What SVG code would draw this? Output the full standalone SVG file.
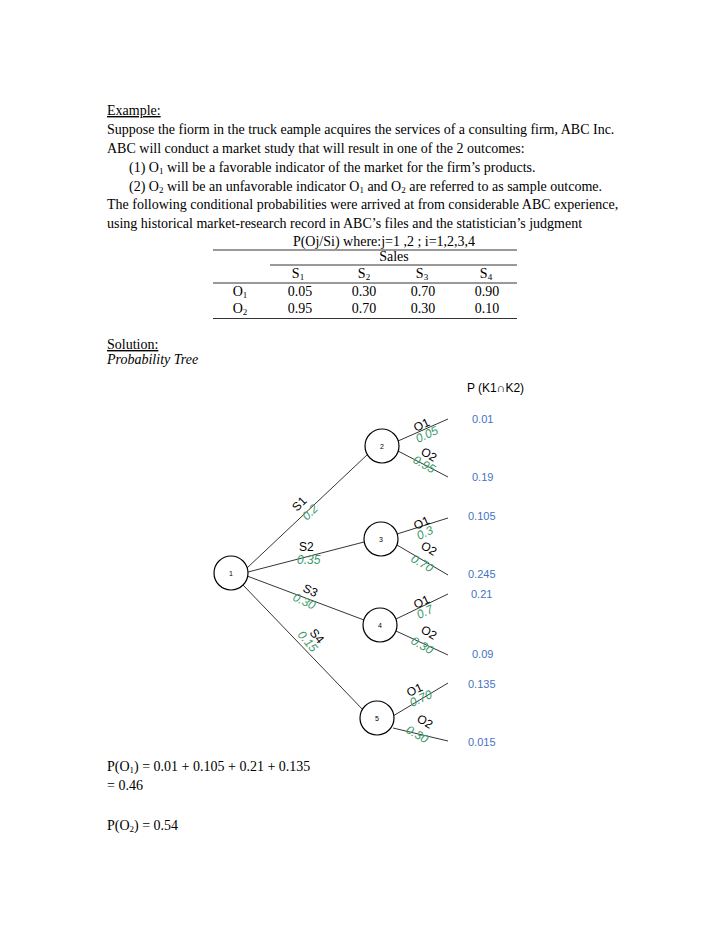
<svg xmlns="http://www.w3.org/2000/svg" width="728" height="942" viewBox="0 0 728 942">
<style>
.t{font-family:"Liberation Serif",serif;font-size:14px;fill:#000}
.c{text-anchor:middle}
.s{font-family:"Liberation Sans",sans-serif;font-size:12px;fill:#000}
.g{font-family:"Liberation Sans",sans-serif;font-size:12px;fill:#3a9a6a;font-style:italic}
.b{font-family:"Liberation Sans",sans-serif;font-size:11px;fill:#4472c4}
.n{font-family:"Liberation Sans",sans-serif;font-size:7px;fill:#000;text-anchor:middle}
circle{fill:#fff;stroke:#000;stroke-width:1.2}
line{stroke:#000;stroke-width:0.8}
</style>
<rect width="728" height="942" fill="#fff"/>
<g id="text">
<text class="t" x="107" y="115" text-decoration="underline">Example:</text>
<text class="t" x="107" y="134">Suppose the fiorm in the truck eample acquires the services of a consulting firm, ABC Inc.</text>
<text class="t" x="107" y="153">ABC will conduct a market study that will result in one of the 2 outcomes:</text>
<text class="t" x="129" y="172">(1) O<tspan font-size="9" dy="2">1</tspan><tspan dy="-2"> will be a favorable indicator of the market for the firm’s products.</tspan></text>
<text class="t" x="129" y="191">(2) O<tspan font-size="9" dy="2">2</tspan><tspan dy="-2"> will be an unfavorable indicator O</tspan><tspan font-size="9" dy="2">1</tspan><tspan dy="-2"> and O</tspan><tspan font-size="9" dy="2">2</tspan><tspan dy="-2"> are referred to as sample outcome.</tspan></text>
<text class="t" x="107" y="209">The following conditional probabilities were arrived at from considerable ABC experience,</text>
<text class="t" x="107" y="228">using historical market-research record in ABC’s files and the statistician’s judgment</text>
</g>
<g id="table">
<text class="t c" x="384" y="246">P(Oj/Si) where:j=1 ,2 ; i=1,2,3,4</text>
<line x1="213" y1="250" x2="517" y2="250"/>
<text class="t c" x="394" y="261">Sales</text>
<line x1="270" y1="265" x2="517" y2="265"/>
<text class="t c" x="298" y="278">S<tspan font-size="9" dy="2">1</tspan></text>
<text class="t c" x="364" y="278">S<tspan font-size="9" dy="2">2</tspan></text>
<text class="t c" x="422" y="278">S<tspan font-size="9" dy="2">3</tspan></text>
<text class="t c" x="486" y="278">S<tspan font-size="9" dy="2">4</tspan></text>
<line x1="213" y1="283" x2="517" y2="283"/>
<text class="t c" x="240" y="296">O<tspan font-size="9" dy="2">1</tspan></text>
<text class="t c" x="300" y="296">0.05</text><text class="t c" x="364" y="296">0.30</text><text class="t c" x="423" y="296">0.70</text><text class="t c" x="487" y="296">0.90</text>
<text class="t c" x="240" y="313">O<tspan font-size="9" dy="2">2</tspan></text>
<text class="t c" x="300" y="313">0.95</text><text class="t c" x="364" y="313">0.70</text><text class="t c" x="423" y="313">0.30</text><text class="t c" x="487" y="313">0.10</text>
<line x1="213" y1="318.5" x2="517" y2="318.5" stroke-width="2"/>
</g>
<g id="solution">
<text class="t" x="107" y="349" text-decoration="underline">Solution:</text>
<text class="t" x="107" y="364" font-style="italic">Probability Tree</text>
</g>
<g id="connectors">
<line x1="247" y1="568" x2="368" y2="454"/>
<line x1="248" y1="572" x2="364" y2="542"/>
<line x1="247" y1="576" x2="364" y2="620"/>
<line x1="243" y1="585" x2="365" y2="712"/>
<line x1="398" y1="441" x2="448" y2="419"/>
<line x1="398" y1="451" x2="448" y2="477"/>
<line x1="397" y1="534" x2="448" y2="518"/>
<line x1="397" y1="545" x2="448" y2="575"/>
<line x1="396" y1="619" x2="448" y2="594"/>
<line x1="396" y1="631" x2="448" y2="655"/>
<line x1="393" y1="716" x2="448" y2="683"/>
<line x1="393" y1="728" x2="448" y2="741"/>
</g>
<g id="node1"><circle cx="231" cy="573" r="17"/><text class="n" x="231" y="576">1</text></g>
<g id="node2"><circle cx="382" cy="446" r="17"/><text class="n" x="382" y="449">2</text></g>
<g id="node3"><circle cx="381" cy="539" r="17"/><text class="n" x="381" y="542">3</text></g>
<g id="node4"><circle cx="380" cy="625" r="17"/><text class="n" x="380" y="628">4</text></g>
<g id="node5"><circle cx="377" cy="718" r="17"/><text class="n" x="377" y="721">5</text></g>
<g id="labels">
<text class="s" transform="translate(297,512) rotate(-45)">S1</text>
<text class="g" transform="translate(307,521) rotate(-45)">0.2</text>
<text class="s" x="299" y="551">S2</text>
<text class="g" x="297" y="564">0.35</text>
<text class="s" transform="translate(302,591) rotate(25)">S3</text>
<text class="g" transform="translate(292,600) rotate(25)">0.30</text>
<text class="s" transform="translate(309,633) rotate(50)">S4</text>
<text class="g" transform="translate(297,635) rotate(50)">0.15</text>
<text class="s" transform="translate(416,432) rotate(-25)">O1</text>
<text class="g" transform="translate(418,443) rotate(-25)">0.05</text>
<text class="s" transform="translate(420,454) rotate(30)">O2</text>
<text class="g" transform="translate(412,462) rotate(30)">0.95</text>
<text class="s" transform="translate(416,530) rotate(-25)">O1</text>
<text class="g" transform="translate(419,540) rotate(-25)">0.3</text>
<text class="s" transform="translate(420,548) rotate(30)">O2</text>
<text class="g" transform="translate(410,561) rotate(30)">0.70</text>
<text class="s" transform="translate(416,609) rotate(-25)">O1</text>
<text class="g" transform="translate(419,619) rotate(-25)">0.7</text>
<text class="s" transform="translate(420,632) rotate(30)">O2</text>
<text class="g" transform="translate(410,643) rotate(30)">0.30</text>
<text class="s" transform="translate(409,697) rotate(-25)">O1</text>
<text class="g" transform="translate(412,707) rotate(-25)">0.70</text>
<text class="s" transform="translate(416,721) rotate(30)">O2</text>
<text class="g" transform="translate(405,732) rotate(30)">0.30</text>
<text class="s" x="467" y="392" font-size="11">P (K1∩K2)</text>
<text class="b" x="472" y="423">0.01</text>
<text class="b" x="472" y="481">0.19</text>
<text class="b" x="468" y="520">0.105</text>
<text class="b" x="468" y="578">0.245</text>
<text class="b" x="471" y="598">0.21</text>
<text class="b" x="472" y="658">0.09</text>
<text class="b" x="468" y="688">0.135</text>
<text class="b" x="468" y="746">0.015</text>
</g>
<g id="results">
<text class="t" x="107" y="771">P(O<tspan font-size="9" dy="2">1</tspan><tspan dy="-2">) =  0.01 + 0.105 + 0.21 + 0.135</tspan></text>
<text class="t" x="107" y="790">=  0.46</text>
<text class="t" x="107" y="830">P(O<tspan font-size="9" dy="2">2</tspan><tspan dy="-2">) = 0.54</tspan></text>
</g>
</svg>
